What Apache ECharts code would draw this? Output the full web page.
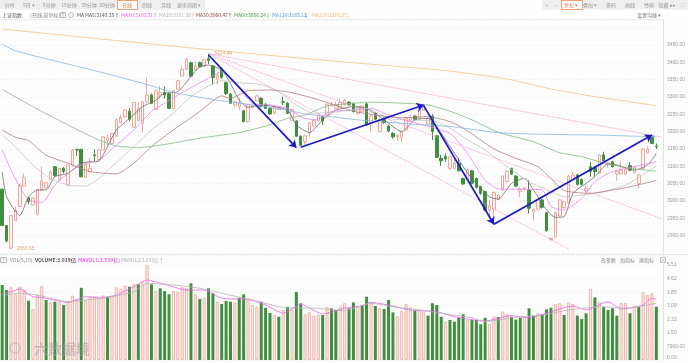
<!DOCTYPE html>
<html><head><meta charset="utf-8">
<style>html,body{margin:0;padding:0;background:#fdfdfd}#c{width:688px;height:363px}</style>
<script src="https://cdn.jsdelivr.net/npm/echarts@6/dist/echarts.min.js"></script>
</head><body><div id="c"></div>
<script>
// open, close, low, high
const candles=[[3034,2929,2929,3034],[2929,2885,2880,2929],[2864,2958,2862,2958],[2943,2974,2943,2984],[2984,3046,2984,3050],[3043,3067,3043,3080],[3009,2998,2990,3012],[2988,3008,2988,3010],[2961,3033,2959,3033],[3032,3059,3030,3099],
[3038,3053,3036,3055],[3062,3083,3060,3088],[3099,3073,3070,3100],[3060,3094,3058,3096],[3094,3085,3080,3098],[3046,3104,3043,3106],[3104,3147,3100,3150],[3149,3147,3130,3150],[3149,3070,3068,3150],[3068,3106,3066,3108],
[3085,3094,3080,3123],[3133,3131,3113,3149],[3120,3147,3118,3150],[3147,3185,3145,3187],[3174,3181,3161,3190],[3166,3195,3164,3197],[3187,3235,3185,3237],[3226,3241,3224,3248],[3243,3262,3240,3265],[3259,3236,3229,3267],
[3212,3284,3210,3286],[3232,3267,3230,3283],[3224,3286,3197,3288],[3286,3306,3284,3357],[3306,3282,3280,3310],[3264,3318,3262,3322],[3306,3312,3295,3332],[3313,3306,3295,3330],[3309,3267,3265,3312],[3267,3318,3265,3320],
[3322,3347,3320,3349],[3360,3380,3358,3390],[3380,3409,3378,3412],[3399,3360,3358,3402],[3378,3389,3376,3402],[3399,3387,3385,3402],[3389,3407,3387,3410],[3410,3405,3395,3424.84],[3389,3356,3335,3392],[3351,3363,3335,3370],
[3380,3357,3352,3385],[3341,3310,3306,3345],[3308,3282,3280,3312],[3277,3286,3270,3290],[3272,3282,3262,3296],[3260,3229,3227,3263],[3229,3277,3226,3280],[3270,3275,3268,3278],[3289,3303,3287,3306],[3296,3272,3270,3300],
[3279,3267,3265,3282],[3267,3251,3248,3270],[3253,3272,3250,3275],[3264,3270,3262,3272],[3286,3285,3277,3301],[3282,3253,3250,3285],[3232,3264,3230,3266],[3231,3187,3185,3233],[3187,3161,3158,3189],[3171,3188,3163,3190],
[3197,3226,3185,3228],[3216,3233,3214,3235],[3232,3248,3230,3250],[3243,3231,3219,3246],[3248,3279,3246,3282],[3274,3279,3272,3286],[3267,3277,3265,3286],[3270,3284,3268,3296],[3277,3291,3275,3294],[3285,3278,3275,3288],
[3280,3258,3255,3283],[3253,3272,3250,3275],[3258,3274,3255,3277],[3280,3219,3216,3285],[3224,3245,3200,3248],[3253,3236,3233,3256],[3200,3235,3198,3238],[3238,3226,3222,3241],[3216,3202,3198,3220],[3195,3185,3180,3198],
[3185,3190,3174,3192],[3184,3200,3171,3202],[3205,3240,3203,3243],[3232,3241,3230,3250],[3245,3235,3232,3247],[3238,3262,3236,3265],[3262,3277,3260,3280],[3222,3238,3220,3240],[3245,3200,3176,3250],[3188,3126,3124,3190],
[3123,3116,3101,3133],[3128,3121,3113,3137],[3094,3128,3090,3130],[3094,3109,3092,3120],[3109,3087,3085,3123],[3065,3049,3046,3068],[3060,3091,3058,3093],[3087,3051,3048,3090],[3065,3039,3036,3068],[3041,3022,3018,3044],
[3027,2974,2970,3030],[2974,2984,2950,3003],[2976,3025,2936,3027],[3005,3017,3003,3020],[3032,3072,3030,3074],[3056,3086,3054,3088],[3094,3078,3075,3096],[3072,3043,3040,3074],[3027,3034,3012,3040],[3035,3038,3030,3040],
[3032,2979,2964,3060],[2969,2976,2945,2978],[2976,3003,2974,3005],[3003,2982,2978,3007],[2966,2914,2912,2968],[2889,2892,2885,2895],[2897,2967,2895,2970],[2957,3003,2955,3005],[2981,2998,2979,3000],[2995,3072,2993,3075],
[3062,3075,3060,3084],[3075,3048,3045,3078],[3062,3048,3045,3065],[3030,3036,3025,3045],[3099,3085,3070,3113],[3097,3085,3070,3100],[3080,3133,3078,3135],[3133,3116,3114,3142],[3104,3110,3096,3112],[3113,3099,3096,3116],
[3078,3085,3059,3087],[3078,3089,3076,3113],[3078,3091,3076,3100],[3102,3089,3086,3112],[3082,3099,3080,3102],[3051,3075,3036,3078],[3094,3150,3092,3152],[3139,3150,3137,3157],[3187,3166,3164,3190],[3158,3156,3150,3166]];

// moving averages as [candle index, price]
const ma5=[[0,3084],[1,3012],[4,2958],[6,3012],[8,3032],[10,3032],[12,3070],[15,3080],[18,3109],[20,3113],[22,3115],[24,3157],[26,3205],[29,3238],[32,3272],[35,3291],[37,3311],[40,3315],[43,3359],[45,3387],[47,3392],[50,3378],[52,3339],[54,3291],[56,3270],[59,3277],[65,3262],[67,3219],[70,3197],[73,3234],[76,3262],[80,3272],[83,3267],[87,3234],[91,3200],[94,3234],[97,3238],[102,3157],[105,3099],[107,3065],[111,3012],[113,3005],[116,3051],[119,3065],[121,3032],[124,2974],[126,2953],[128,2955],[130,3022],[133,3051],[135,3070],[138,3107],[140,3104],[144,3089],[147,3104],[149,3137]];
const ma10=[[0,3147],[2,3089],[4,3041],[6,3003],[9,2995],[12,3046],[15,3080],[18,3104],[22,3118],[26,3161],[30,3205],[34,3258],[37,3282],[42,3320],[47,3354],[50,3373],[53,3339],[57,3282],[61,3277],[65,3267],[68,3243],[71,3234],[75,3258],[80,3262],[84,3267],[89,3243],[95,3222],[102,3195],[106,3137],[110,3060],[113,3035],[117,3034],[123,3032],[125,2984],[128,2974],[132,3008],[135,3056],[139,3085],[144,3099],[149,3113]];
const ma20=[[0,3190],[3,3157],[7,3104],[11,3065],[15,3046],[19,3043],[22,3065],[25,3099],[30,3157],[34,3205],[39,3253],[43,3301],[47,3332],[50,3347],[54,3341],[59,3336],[63,3315],[67,3277],[71,3253],[77,3258],[83,3267],[88,3238],[93,3234],[99,3229],[102,3210],[106,3176],[110,3147],[115,3099],[120,3056],[125,3027],[128,3012],[132,3017],[137,3027],[142,3046],[146,3075],[149,3101]];
const ma30=[[0,3205],[3,3184],[6,3174],[10,3132],[15,3109],[20,3085],[26,3078],[30,3109],[34,3157],[39,3205],[45,3258],[50,3303],[52,3296],[56,3318],[61,3320],[65,3315],[71,3296],[75,3280],[80,3259],[85,3248],[91,3240],[97,3243],[102,3229],[105,3210],[109,3176],[112,3150],[117,3123],[122,3099],[125,3065],[128,3030],[134,3022],[137,3027],[143,3041],[149,3059]];
const ma60=[[0,3322],[7,3272],[15,3219],[22,3176],[26,3159],[31,3154],[37,3163],[45,3181],[50,3190],[54,3197],[60,3216],[65,3238],[69,3248],[74,3274],[80,3282],[84,3285],[91,3282],[97,3277],[102,3259],[107,3234],[113,3198],[121,3171],[127,3139],[132,3128],[137,3110],[143,3094],[149,3086]];
const ma120=[[0,3453],[3,3433],[22,3373],[33,3336],[39,3313],[50,3289],[57,3277],[65,3262],[69,3251],[75,3243],[81,3234],[89,3226],[95,3220],[102,3215],[113,3197],[125,3192],[136,3190],[149,3185]];
const ma250=[[0,3496],[25,3464],[50,3433],[75,3404],[101,3376],[115,3352],[125,3323],[135,3301],[149,3275]];

const volumes=[4.35,4.06,4.21,3.81,4.25,4.06,3.44,2.94,3.77,4.27,3.48,3.34,3.38,3.34,3.19,3.38,3.73,3.52,4.19,3.48,
3.67,3.67,3.58,3.73,3.67,3.67,4.21,4.12,4.31,4.25,4.39,4.39,4.50,5.51,4.39,4.0,4.16,4.0,3.81,4.0,
3.96,4.21,4.16,4.45,3.81,3.54,3.61,4.16,3.87,3.38,3.25,3.42,3.38,3.34,3.61,3.81,3.52,3.19,3.09,3.38,
3.03,2.73,2.61,2.51,2.9,3.09,2.9,3.94,3.29,2.65,2.76,2.57,2.61,2.61,3.05,3.0,2.9,3.09,3.29,3.0,
3.34,3.09,3.19,3.67,3.34,3.13,3.0,2.96,3.48,2.76,2.53,2.84,3.23,3.05,2.84,2.9,2.8,2.57,3.29,3.19,
2.51,2.22,2.32,2.22,2.45,2.65,2.32,2.32,2.32,2.07,2.45,2.11,2.51,2.49,2.8,2.65,2.51,2.34,2.45,2.51,
3.0,2.57,2.71,2.65,2.94,3.03,3.23,3.29,2.61,3.34,3.23,2.57,2.38,2.71,4.1,3.63,3.34,3.07,2.9,3.0,
2.57,3.29,3.29,2.71,3.13,3.07,3.92,3.77,3.87,3.09];
const volGreen=[0,1,6,10,12,14,18,24,29,31,34,36,37,38,43,45,47,48,50,51,52,54,55,59,60,61,63,65,67,68,73,75,76,79,80,82,83,85,87,88,89,94,97,98,99,100,102,103,104,105,107,108,109,110,113,116,117,118,120,121,123,124,125,128,131,132,133,135,137,138,139,140,143,145,149];
const mavol1=[[0,3.87],[2,3.96],[4,4.12],[7,3.67],[9,3.63],[15,3.34],[19,3.67],[23,3.63],[26,3.77],[30,4.25],[33,4.64],[37,4.39],[42,4.06],[46,4.06],[50,3.58],[56,3.52],[60,3.19],[64,2.71],[68,3.23],[73,2.67],[78,3.0],[82,3.15],[84,3.34],[88,3.19],[93,2.9],[99,2.8],[103,2.51],[110,2.26],[116,2.57],[120,2.45],[125,2.8],[130,3.13],[133,2.9],[138,3.38],[141,2.96],[146,3.19],[148,3.58],[149,3.52]];
const mavol2=[[0,3.77],[4,3.87],[8,3.77],[15,3.38],[19,3.48],[25,3.67],[30,3.96],[33,4.45],[39,4.35],[45,4.16],[51,3.81],[57,3.48],[64,3.05],[72,3.0],[78,2.86],[84,3.29],[89,3.09],[95,2.9],[100,2.71],[107,2.45],[110,2.22],[116,2.45],[123,2.61],[129,2.9],[137,3.09],[142,3.0],[149,3.29]];
const volTickLabels=['0.00','7900.00','1.50','2.32','3.09','3.85','4.62','5.51'];

// trend arrows and dotted fan lines: [start index, start price, end index, end price]
const arrows=[[47,3421,67.1,3154],[68,3155,95.9,3277],[96,3275,111.8,2933],[112,2933,147.8,3190]];
const fans=[[47,3424.84,150,3185],[47,3424.84,150,2950],[47,3424.84,129,2861]];
const extremes=[[47,3424.84],[2,2863.65]];
const categories=Array.from({length:candles.length+1},(_,i)=>String(i+1));

const F='"Noto Sans CJK SC","Liberation Sans",sans-serif';
const txt=(x,y,s,fill,w,align)=>({type:'text',x,y,silent:true,style:{text:s,fill:fill||'#888',font:(w||'normal')+' 5px '+F,textAlign:align||'center',textVerticalAlign:'middle'}});
const rect=(x,y,w,h,fill,stroke)=>({type:'rect',silent:true,shape:{x,y,width:w,height:h},style:{fill:fill||'none',stroke:stroke||null,lineWidth:1}});

const tabs=[['分时',9.5],['5日 ▾',29],['5分钟',49],['15分钟',69],['30分钟',89],['60分钟',107],['日线',127],['周线',147],['月线',166],['更多周期 ▾',189]];
const tools=[['+',547],['−',556],['复权 ▾',571],['叠加 ▾',590],['筹码',611],['画线',630],['经典',649],['隐藏 ▸▸',667],['⛶',683]];
const legend=[['MA5:3140.35',85,'#555','↑',117],['MA10:3116.31',121,'#e55ee5','↑',155],['MA20:3101.36',159,'#b5b5b5','↑',193],['MA30:3060.47',196,'#8b4a4a','↑',230],['MA60:3086.24',234,'#4f9a4f','↓',268],['MA120:3185.12',272,'#5a9ad9','↓',306],['MA250:3276.87',312,'#efbb78','↓',348]];
const volLegend=[['VOL(5,10)',10,'#888','normal'],['VOLUME:3.019亿',35,'#555','bold'],['↓',73,'#3f8f3f','normal'],['MAVOL1:3.530亿',78,'#e55ee5','bold'],['↓',117,'#e55ee5','normal'],['MAVOL2:3.253亿',121,'#b0b0b0','normal'],['↑',159,'#999','normal']];

const g=[rect(0,0,205,9.5,'#efefef'),rect(542,0,146,9.5,'#efefef'),rect(117.5,0.5,20,9,'#fff','#f0a070'),rect(561.5,0.5,21,9,'#fff','#f0a070')];
tabs.forEach(t=>g.push(txt(t[1],5,t[0],t[0]==='日线'?'#e8804a':'#999')));
tools.forEach(t=>g.push(txt(t[1],5,t[0],t[0].startsWith('复权')?'#e8804a':'#999')));
g.push(txt(2,15,'上证指数','#555','normal','left'),txt(27,15,'（日线,前复权）','#888','normal','left'),rect(60.5,12.5,5,5,null,'#bbb'),txt(63,15,'T','#999'),{type:'circle',silent:true,shape:{cx:71,cy:15,r:2.5},style:{fill:'none',stroke:'#bbb',lineWidth:1}},txt(77,15,'MA','#555','normal','left'));
legend.forEach(l=>{g.push(txt(l[1],15,l[0],l[2],'normal','left'),txt(l[4],15,l[3],l[2]));});
g.push(txt(637,15,'设置均线 ▾','#777','normal','left'));
g.push(rect(0.5,257.5,6,5,null,'#bbb'),txt(3.5,260,'?','#999'));
volLegend.forEach(l=>g.push(txt(l[1],260,l[0],l[2],l[3],'left')));
[['改参数',601],['加指标',620],['换指标',639]].forEach(t=>g.push(txt(t[1],260,t[0],'#888','normal','left')));
g.push(rect(660.5,257.5,5,5,null,'#bbb'),txt(663,260,'×','#999'));
g.push({type:'line',silent:true,shape:{x1:0,y1:19.5,x2:664,y2:19.5},style:{stroke:'#eeeeee'}},{type:'line',silent:true,shape:{x1:0,y1:254.5,x2:688,y2:254.5},style:{stroke:'#e8e8e8'}});
g.push({type:'circle',silent:true,z:50,shape:{cx:15,cy:348,r:5},style:{fill:'none',stroke:'rgba(180,180,180,.5)',lineWidth:2}},{type:'text',silent:true,z:50,x:34,y:349,style:{text:'六数据境',fill:'rgba(160,160,160,.5)',font:'bold 14px '+F,textVerticalAlign:'middle'}});

const ln=(name,data,color,w)=>({name,type:'line',data,xAxisIndex:0,yAxisIndex:0,symbol:'none',smooth:0.2,silent:true,lineStyle:{color,width:w||0.8},z:3});
const vln=(name,data,color)=>({name,type:'line',data,xAxisIndex:1,yAxisIndex:1,symbol:'none',smooth:0.2,silent:true,lineStyle:{color,width:0.8},z:3});
const seg=a=>[{coord:[a[0],a[1]]},{coord:[a[2],a[3]]}];

const option={
 animation:false,backgroundColor:'#fdfdfd',tooltip:{show:false},graphic:{elements:g},
 grid:[{left:0,top:20,width:664,height:233},{left:0,top:255,width:664,height:105}],
 xAxis:[0,1].map(i=>({type:'category',gridIndex:i,data:categories,boundaryGap:true,axisLine:{show:false},axisTick:{show:false},axisLabel:{show:false},splitLine:{show:false}})),
 yAxis:[
  {type:'value',gridIndex:0,position:'right',min:2850,max:3522,interval:50,
   axisLine:{show:true,lineStyle:{color:'#e2e2e2'}},axisTick:{show:false},splitLine:{lineStyle:{color:'#f2f2f2',type:'dashed',width:0.8}},
   axisLabel:{fontSize:5,color:'#999',margin:4,fontFamily:'Liberation Sans',formatter:v=>(v>=2900&&v<=3450)?v.toFixed(2):''}},
  {type:'value',gridIndex:1,position:'right',min:0,max:6.09,interval:0.787,
   axisLine:{show:true,lineStyle:{color:'#e2e2e2'}},axisTick:{show:false},splitLine:{lineStyle:{color:'#f2f2f2',type:'dashed',width:0.8}},
   axisLabel:{fontSize:5,color:'#999',margin:4,verticalAlignMinLabel:'bottom',fontFamily:'Liberation Sans',formatter:(v,i)=>volTickLabels[i]||''}}
 ],
 series:[
  {name:'K',type:'candlestick',data:candles,xAxisIndex:0,yAxisIndex:0,barWidth:3,silent:true,
   itemStyle:{color:'#fef4f2',color0:'#3f8f3f',borderColor:'#eca89f',borderColor0:'#3f8f3f',borderWidth:1}},
  ln('MA5',ma5,'#6a6a6a',0.8),ln('MA10',ma10,'#ec82ec'),ln('MA20',ma20,'#c4c4c4'),ln('MA30',ma30,'#b07d7d'),ln('MA60',ma60,'#82b982'),ln('MA120',ma120,'#86b6e2'),ln('MA250',ma250,'#f6d09a',1),
  {name:'fan',type:'line',data:[],xAxisIndex:0,yAxisIndex:0,z:4,markLine:{silent:true,animation:false,symbol:'none',label:{show:false},lineStyle:{color:'#f08cc8',type:'dotted',width:0.9},data:fans.map(seg)}},
  {name:'trend',type:'line',data:[],xAxisIndex:0,yAxisIndex:0,z:5,markLine:{silent:true,animation:false,symbol:['none','arrow'],symbolSize:7,label:{show:false},lineStyle:{color:'#1818c8',type:'solid',width:1.7},data:arrows.map(seg)}},
  {name:'extremes',type:'scatter',data:extremes,xAxisIndex:0,yAxisIndex:0,z:6,silent:true,symbolSize:1,itemStyle:{color:'#e8905a'},
   label:{show:true,position:'right',distance:5,fontSize:5,color:'#e8905a',fontFamily:'Liberation Sans',formatter:p=>p.value[1].toFixed(2)}},
  {name:'VOL',type:'bar',xAxisIndex:1,yAxisIndex:1,barWidth:3,silent:true,
   data:volumes.map((v,i)=>volGreen.includes(i)?{value:v,itemStyle:{color:'#3f8f3f',borderColor:'#3f8f3f',borderWidth:0}}:{value:v,itemStyle:{color:'#fde8e4',borderColor:'#eca89f',borderWidth:0.8}})},
  vln('MAVOL1',mavol1,'#ea60ea'),vln('MAVOL2',mavol2,'#b5b5b5')
 ]
};
const chart=echarts.init(document.getElementById('c'),null,{renderer:'canvas'});
chart.setOption(option);
</script></body></html>
